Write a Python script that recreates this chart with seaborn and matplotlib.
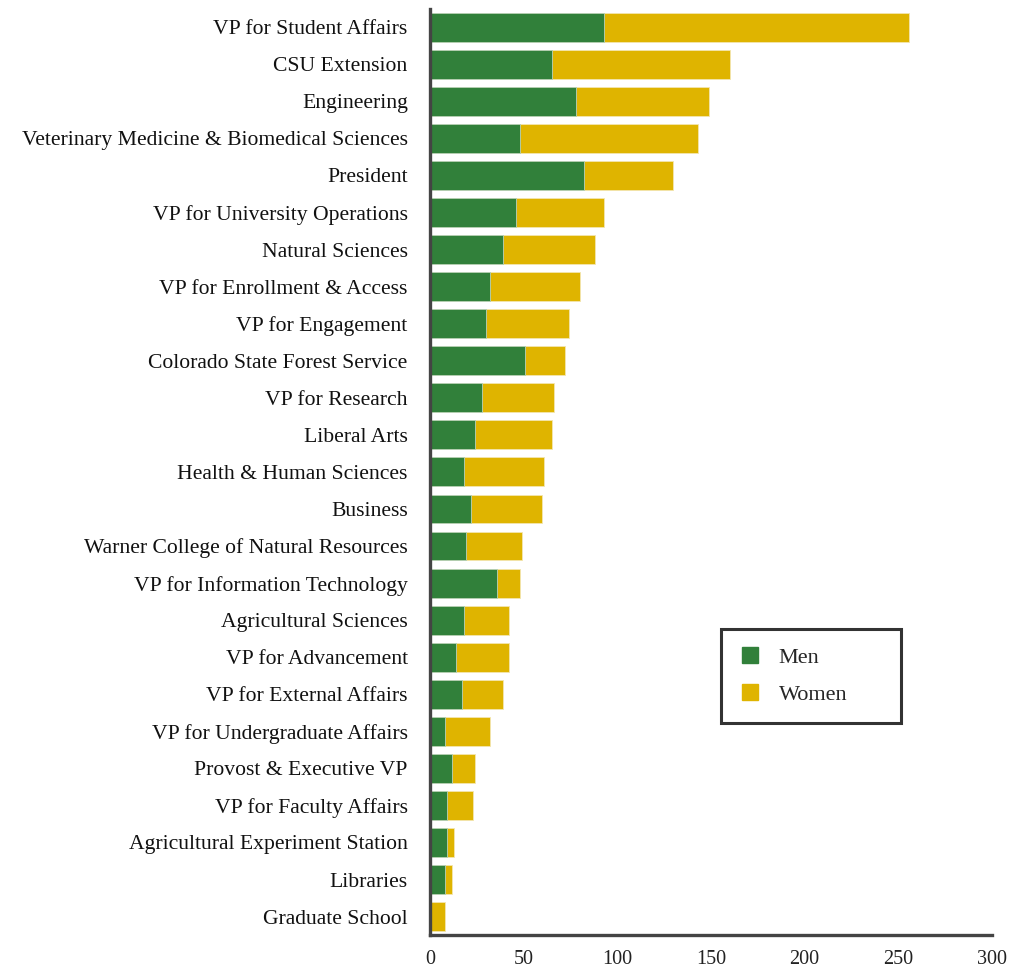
import matplotlib
matplotlib.use("Agg")
import matplotlib.pyplot as plt
from matplotlib.lines import Line2D
import pandas as pd
import seaborn as sns

# departamentos, de arriba a abajo
units = ["VP for Student Affairs", "CSU Extension", "Engineering",
         "Veterinary Medicine & Biomedical Sciences", "President",
         "VP for University Operations", "Natural Sciences",
         "VP for Enrollment & Access", "VP for Engagement",
         "Colorado State Forest Service", "VP for Research", "Liberal Arts",
         "Health & Human Sciences", "Business",
         "Warner College of Natural Resources",
         "VP for Information Technology", "Agricultural Sciences",
         "VP for Advancement", "VP for External Affairs",
         "VP for Undergraduate Affairs", "Provost & Executive VP",
         "VP for Faculty Affairs", "Agricultural Experiment Station",
         "Libraries", "Graduate School"]
men = [93, 65, 78, 48, 82, 46, 39, 32, 30, 51, 28, 24, 18, 22, 19, 36, 18, 14,
       17, 8, 12, 9, 9, 8, 0]
women = [163, 95, 71, 95, 48, 47, 49, 48, 44, 21, 38, 41, 43, 38, 30, 12, 24,
         28, 22, 24, 12, 14, 4, 4, 8]
x_ticks = [0, 50, 100, 150, 200, 250, 300]

green = "#31803a"
gold = "#dfb400"

df = pd.DataFrame({"unit": units, "men": men, "women": women})
df["total"] = df["men"] + df["women"]

sns.set_style("white")
plt.rcParams["font.family"] = ["Liberation Serif", "DejaVu Serif"]

fig = plt.figure(figsize=(10.10, 9.69), dpi=100)
ax = fig.add_axes([0.4257, 0.035, 0.5564, 0.956])

# barra total (mujeres) y encima la de hombres
sns.barplot(data=df, x="total", y="unit", orient="h", color=gold, width=0.78,
            saturation=1, edgecolor="#f3e6b0", linewidth=0.6, ax=ax)
sns.barplot(data=df, x="men", y="unit", orient="h", color=green, width=0.78,
            saturation=1, edgecolor="#b9d3bc", linewidth=0.6, ax=ax)

ax.set_xlim(0, 300)
ax.set_ylim(24.5, -0.5)
ax.set_xticks(x_ticks)
ax.set_xlabel("")
ax.set_ylabel("")
ax.tick_params(axis="y", labelsize=15.6, length=0, pad=16, colors="#111111")
ax.tick_params(axis="x", labelsize=14.5, length=0, pad=11, colors="#222222")

for side in ["top", "right"]:
    ax.spines[side].set_visible(False)
for side in ["left", "bottom"]:
    ax.spines[side].set_color("#444444")
    ax.spines[side].set_linewidth(2.4)

handles = [Line2D([], [], marker="s", linestyle="", markersize=11,
                  markerfacecolor=green, markeredgecolor=green, label="Men"),
           Line2D([], [], marker="s", linestyle="", markersize=11,
                  markerfacecolor=gold, markeredgecolor=gold, label="Women")]
leg = ax.legend(handles=handles, loc="upper left",
                bbox_to_anchor=(0.518, 0.0, 0.32, 0.33), mode="expand",
                borderaxespad=0, frameon=True, fancybox=False, fontsize=16,
                borderpad=0.8, labelspacing=0.75, handletextpad=0.8,
                handlelength=1.0)
leg.get_frame().set_edgecolor("black")
leg.get_frame().set_linewidth(2.2)

fig.savefig("out.png", dpi=100)
